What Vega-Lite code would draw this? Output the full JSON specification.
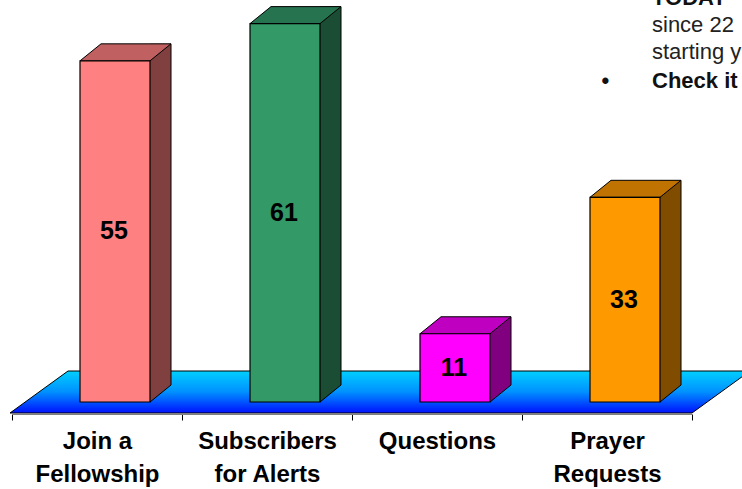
{
  "$schema": "https://vega.github.io/schema/vega-lite/v6.json",
  "width": 680,
  "height": 397,
  "autosize": {"type": "none"},
  "padding": {"left": 12, "top": 5, "right": 50, "bottom": 87},
  "background": "white",
  "config": {"view": {"stroke": null}},
  "title": {
    "text": "TODAY",
    "subtitle": ["since 22", "starting y"],
    "anchor": "start",
    "frame": "group",
    "dx": 640,
    "dy": 59,
    "offset": 0,
    "font": "Liberation Sans",
    "fontSize": 22,
    "fontWeight": "bold",
    "color": "#111111",
    "subtitleFont": "Liberation Sans",
    "subtitleFontSize": 22,
    "subtitleFontWeight": "normal",
    "subtitleColor": "#222222",
    "subtitleLineHeight": 27,
    "subtitlePadding": 5
  },
  "data": {
    "values": [
      {"category": "Join a Fellowship", "count": 55},
      {"category": "Subscribers for Alerts", "count": 61},
      {"category": "Questions", "count": 11},
      {"category": "Prayer Requests", "count": 33}
    ]
  },
  "encoding": {
    "x": {
      "field": "category",
      "type": "nominal",
      "sort": null,
      "scale": {"paddingInner": 0, "paddingOuter": 0},
      "axis": {
        "title": "\u2022\u00a0\u00a0\u00a0\u00a0\u00a0\u00a0\u00a0Check it",
        "titleX": 589,
        "titleY": -327,
        "titleAlign": "left",
        "titleBaseline": "alphabetic",
        "titleAngle": 0,
        "titleFont": "Liberation Sans",
        "titleFontSize": 22,
        "titleFontWeight": "bold",
        "titleColor": "#111111",
        "labelAngle": 0,
        "labelFont": "Liberation Sans",
        "labelFontSize": 24,
        "labelFontWeight": "bold",
        "labelColor": "#000000",
        "labelLineHeight": 33,
        "labelPadding": 9,
        "labelOverlap": false,
        "labelBaseline": "top",
        "labelExpr": "datum.label == 'Join a Fellowship' ? ['Join a', 'Fellowship'] : datum.label == 'Subscribers for Alerts' ? ['Subscribers', 'for Alerts'] : datum.label == 'Prayer Requests' ? ['Prayer', 'Requests'] : datum.label",
        "tickBand": "extent",
        "tickSize": 6,
        "tickColor": "#000000",
        "domainColor": "#808080",
        "offset": 12,
        "grid": false
      }
    },
    "y": {
      "field": "count",
      "type": "quantitative",
      "scale": {"domain": [0, 64], "nice": false},
      "axis": null
    }
  },
  "layer": [
    {
      "transform": [{"filter": "datum.category == 'Join a Fellowship'"}],
      "mark": {
        "type": "point",
        "shape": "M-87,11L595,11L653,-31L-29,-31Z",
        "size": 4,
        "filled": true,
        "opacity": 1,
        "fill": {
          "gradient": "linear",
          "x1": 0, "y1": 0, "x2": 0, "y2": 1,
          "stops": [
            {"offset": 0, "color": "#00D0FF"},
            {"offset": 0.5, "color": "#0090FF"},
            {"offset": 1, "color": "#0010FF"}
          ]
        },
        "stroke": "black",
        "strokeWidth": 1
      },
      "encoding": {"y": {"datum": 0, "type": "quantitative"}}
    },
    {
      "mark": {"type": "bar", "size": 21, "xOffset": 63.5, "yOffset": -17, "y2Offset": -17},
      "encoding": {
        "y2": {"datum": 0},
        "color": {
          "field": "category", "type": "nominal", "legend": null,
          "scale": {"domain": ["Join a Fellowship", "Subscribers for Alerts", "Questions", "Prayer Requests"], "range": ["#804040", "#1A4D33", "#800080", "#804D00"]}
        }
      }
    },
    {
      "mark": {"type": "point", "shape": "M53,-18L74,-18L74,-17L53,0Z", "size": 4, "filled": true, "opacity": 1, "strokeWidth": 0},
      "encoding": {
        "y": {"datum": 0, "type": "quantitative"},
        "color": {
          "field": "category", "type": "nominal", "legend": null,
          "scale": {"domain": ["Join a Fellowship", "Subscribers for Alerts", "Questions", "Prayer Requests"], "range": ["#804040", "#1A4D33", "#800080", "#804D00"]}
        }
      }
    },
    {
      "mark": {"type": "rule", "xOffset": 74, "yOffset": -17, "y2Offset": -17, "color": "black", "strokeWidth": 1},
      "encoding": {"y2": {"datum": 0}}
    },
    {
      "mark": {"type": "point", "shape": "M53,0L74,-17", "size": 4, "filled": false, "opacity": 1, "color": "black", "strokeWidth": 1},
      "encoding": {"y": {"datum": 0, "type": "quantitative"}}
    },
    {
      "mark": {"type": "point", "shape": "M-17,0L53,0L74,-17L4,-17Z", "size": 4, "filled": true, "opacity": 1, "stroke": "black", "strokeWidth": 1},
      "encoding": {
        "color": {
          "field": "category", "type": "nominal", "legend": null,
          "scale": {"domain": ["Join a Fellowship", "Subscribers for Alerts", "Questions", "Prayer Requests"], "range": ["#C06060", "#267350", "#C000C0", "#C07300"]}
        }
      }
    },
    {
      "mark": {"type": "bar", "size": 70, "xOffset": 18, "stroke": "black", "strokeWidth": 1.2},
      "encoding": {
        "y2": {"datum": 0},
        "color": {
          "field": "category", "type": "nominal", "legend": null,
          "scale": {"domain": ["Join a Fellowship", "Subscribers for Alerts", "Questions", "Prayer Requests"], "range": ["#FF8080", "#339966", "#FF00FF", "#FF9900"]}
        }
      }
    },
    {
      "transform": [{"calculate": "datum.count / 2", "as": "mid"}],
      "mark": {"type": "text", "xOffset": 17, "font": "Liberation Sans", "fontSize": 25, "fontWeight": "bold", "baseline": "middle", "align": "center", "color": "#000000"},
      "encoding": {
        "y": {"field": "mid", "type": "quantitative"},
        "text": {"field": "count", "type": "quantitative"}
      }
    }
  ],
  "resolve": {"scale": {"color": "independent"}}
}
